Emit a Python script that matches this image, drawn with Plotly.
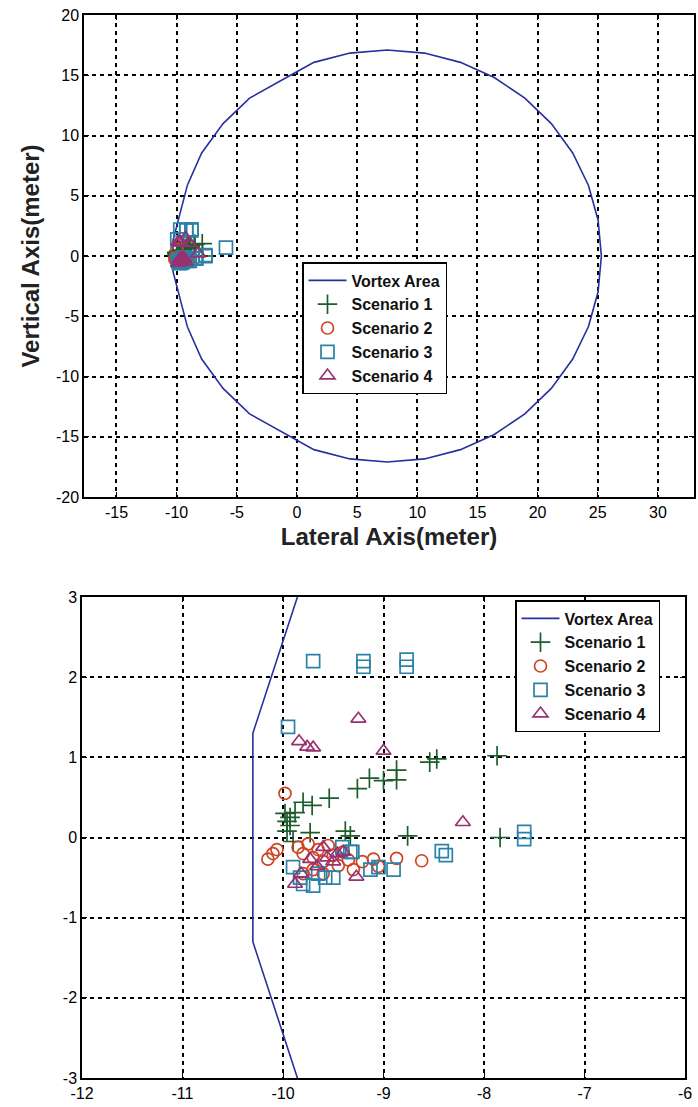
import plotly.graph_objects as go

# ---- Data ----
vortex_x = [25.3, 25.03, 24.23, 22.92, 21.14, 18.94, 16.4, 13.59, 10.6, 7.5, 4.4, 1.41, -0.8, -3.94, -6.14, -7.92,
            -9.1, -10.3, -10.3, -9.1, -7.92, -6.14, -3.94, -0.8, 1.41, 4.4, 7.5, 10.6, 13.59, 16.4, 18.94, 21.14,
            22.92, 24.23, 25.03, 25.3]
vortex_y = [0, 2.97, 5.85, 8.55, 10.99, 13.10, 14.81, 16.07, 16.84, 17.1, 16.84, 16.07, 14.85, 13.10, 10.99, 8.55,
            5.9, 1.3, -1.3, -5.9, -8.55, -10.99, -13.10, -14.85, -16.07, -16.84, -17.1, -16.84, -16.07, -14.81,
            -13.10, -10.99, -8.55, -5.85, -2.97, 0]

s1_x = [-9.98, -9.93, -9.96, -9.93, -9.96, -9.88, -9.80, -9.71, -9.54, -9.73, -9.38, -9.33, -9.26, -9.14, -9.00,
        -8.87, -8.87, -8.54, -8.47, -7.87, -8.76, -7.84, -9.90]
s1_y = [0.30, 0.25, 0.20, 0.15, 0.08, 0.31, 0.44, 0.40, 0.49, 0.06, 0.08, 0.02, 0.61, 0.74, 0.71,
        0.72, 0.84, 0.94, 0.98, 1.02, 0.02, 0.00, -0.05]

s2_x = [-9.98, -10.15, -10.10, -10.06, -9.85, -9.80, -9.75, -9.70, -9.65, -9.60, -9.55, -9.50, -9.45, -9.40,
        -9.35, -9.80, -9.70, -9.60, -9.21, -9.10, -9.05, -8.87, -8.62, -9.30]
s2_y = [0.55, -0.27, -0.20, -0.15, -0.12, -0.20, -0.08, -0.25, -0.15, -0.30, -0.10, -0.22, -0.35, -0.18,
        -0.28, -0.45, -0.40, -0.45, -0.30, -0.27, -0.36, -0.26, -0.29, -0.40]

s3_x = [-9.70, -9.20, -9.20, -8.77, -8.77, -9.95, -7.60, -7.60, -8.42, -8.38, -9.31, -9.13, -9.05, -8.90, -9.90,
        -9.83, -9.70, -9.58, -9.50, -9.41, -9.33, -9.80, -9.65, -5.9]
s3_y = [2.20, 2.20, 2.13, 2.22, 2.13, 1.38, 0.07, -0.02, -0.17, -0.22, -0.18, -0.40, -0.37, -0.40, -0.37,
        -0.50, -0.60, -0.50, -0.50, -0.12, -0.18, -0.58, -0.45, 0.7]

s4_x = [-9.84, -9.76, -9.70, -9.25, -9.00, -8.21, -9.88, -9.27, -9.73, -9.66, -9.56, -9.46, -9.40, -9.60, -9.50, -9.82]
s4_y = [1.20, 1.13, 1.12, 1.48, 1.08, 0.19, -0.58, -0.49, -0.27, -0.36, -0.25, -0.20, -0.18, -0.12, -0.30, -0.45]

names = ["Vortex Area", "Scenario 1", "Scenario 2", "Scenario 3", "Scenario 4"]

top_xticks = [-15, -10, -5, 0, 5, 10, 15, 20, 25, 30]
top_xlabels = ["-15", "-10", "-5", "0", "5", "10", "15", "20", "25", "30"]
top_yticks = [-20, -15, -10, -5, 0, 5, 10, 15, 20]
top_ylabels = ["-20", "-15", "-10", "-5", "0", "5", "10", "15", "20"]
bot_xticks = [-12, -11, -10, -9, -8, -7, -6]
bot_xlabels = ["-12", "-11", "-10", "-9", "-8", "-7", "-6"]
bot_yticks = [-3, -2, -1, 0, 1, 2, 3]
bot_ylabels = ["-3", "-2", "-1", "0", "1", "2", "3"]

# ---- Styles ----
C_VORTEX = "#26309e"
C1, C2, C3, C4 = "#1f5c2c", "#cf4422", "#2a82a8", "#983072"
FONT = "Arial, Liberation Sans, sans-serif"

series = [
    (s1_x, s1_y, "cross-thin-open", C1, 14),
    (s2_x, s2_y, "circle-open", C2, 12),
    (s3_x, s3_y, "square-open", C3, 13),
    (s4_x, s4_y, "triangle-up-open", C4, 13),
]

fig = go.Figure()
for sub, (xa, ya, lg) in enumerate([("x", "y", "legend"), ("x2", "y2", "legend2")]):
    fig.add_trace(go.Scatter(x=vortex_x, y=vortex_y, mode="lines", name=names[0],
                             line=dict(color=C_VORTEX, width=1.6), xaxis=xa, yaxis=ya,
                             legend=lg, cliponaxis=True))
    for i, (sx, sy, sym, col, sz) in enumerate(series):
        fig.add_trace(go.Scatter(x=sx, y=sy, mode="markers", name=names[i + 1],
                                 marker=dict(symbol=sym, size=sz, color=col,
                                             line=dict(color=col, width=1.7)),
                                 xaxis=xa, yaxis=ya, legend=lg, cliponaxis=True))

axis_common = dict(showline=True, linecolor="black", linewidth=1.5, mirror="ticks",
                   ticks="inside", ticklen=5, tickcolor="black",
                   showgrid=True, gridcolor="black", gridwidth=1.6, griddash="4px,4px",
                   zeroline=False, tickfont=dict(family=FONT, size=16, color="black"),
                   automargin=False)

legend_common = dict(xanchor="left", yanchor="top", bgcolor="white", bordercolor="black", borderwidth=1.5,
                     font=dict(family=FONT, size=16, color="#111", weight="bold"),
                     tracegroupgap=0, itemwidth=38)

fig.update_layout(
    width=698, height=1107,
    margin=dict(l=0, r=0, t=0, b=0),
    paper_bgcolor="white", plot_bgcolor="white",
    showlegend=True,
    xaxis=dict(domain=[84 / 698, 694 / 698], range=[-17.7, 33], tickvals=top_xticks, ticktext=top_xlabels,
               anchor="y",
               title=dict(text="Lateral Axis(meter)", standoff=8,
                          font=dict(family=FONT, size=24, color="#222", weight="bold")),
               **axis_common),
    yaxis=dict(domain=[(1107 - 497) / 1107, (1107 - 15) / 1107], range=[-20, 20],
               tickvals=top_yticks, ticktext=top_ylabels, anchor="x",
               title=dict(text="Vertical Axis(meter)", standoff=10,
                          font=dict(family=FONT, size=24, color="#222", weight="bold")),
               **axis_common),
    xaxis2=dict(domain=[82 / 698, 685 / 698], range=[-12, -6], tickvals=bot_xticks, ticktext=bot_xlabels,
                anchor="y2", **axis_common),
    yaxis2=dict(domain=[(1107 - 1078) / 1107, (1107 - 597) / 1107], range=[-3, 3],
                tickvals=bot_yticks, ticktext=bot_ylabels, anchor="x2", **axis_common),
    legend=dict(x=302 / 698, y=(1107 - 262) / 1107, **legend_common),
    legend2=dict(x=515 / 698, y=(1107 - 600) / 1107, **legend_common),
)

fig.write_html("out.html", config={"displayModeBar": False},
               post_script="document.body.style.margin='0';document.body.style.overflow='hidden';")
